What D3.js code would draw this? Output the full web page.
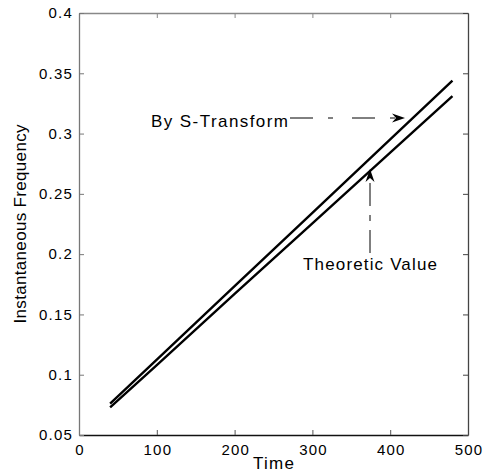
<!DOCTYPE html>
<html>
<head>
<meta charset="utf-8">
<script src="https://cdn.jsdelivr.net/npm/d3@7"></script>
<style>
  body { margin: 0; background: white; }
  text { font-family: "Liberation Sans", Arial, Helvetica, sans-serif; fill: black; }
</style>
</head>
<body>
<svg id="chart" width="488" height="475"></svg>
<script>
// values
const time = [40, 100, 200, 300, 400, 480];
const theoretic = [0.073, 0.108, 0.167, 0.2256, 0.2842, 0.331];
const sTransform = [0.076, 0.1125, 0.1734, 0.2343, 0.2952, 0.344];

const xTicks = [0, 100, 200, 300, 400, 500];
const yTicks = [0.05, 0.1, 0.15, 0.2, 0.25, 0.3, 0.35, 0.4];

const labels = {
    x: "Time",
    y: "Instantaneous Frequency",
    upper: "By S-Transform",
    lower: "Theoretic Value"
};

const margin = { left: 79, top: 13, right: 468, bottom: 435 };

const svg = d3.select("#chart");

const x = d3.scaleLinear().domain([0, 500]).range([margin.left, margin.right]);
const y = d3.scaleLinear().domain([0.05, 0.4]).range([margin.bottom, margin.top]);

function drawAxes() {
    const tickLen = 5;

    // bottom
    const bottom = svg.append("g")
        .attr("transform", `translate(0,${margin.bottom})`)
        .call(d3.axisBottom(x).tickValues(xTicks).tickSizeInner(-tickLen).tickSizeOuter(0).tickPadding(9));
    bottom.select(".domain").attr("stroke", "#111").attr("stroke-width", 1.2);
    bottom.selectAll(".tick line").attr("stroke", "#555");
    bottom.selectAll(".tick text")
        .attr("font-size", 15)
        .attr("letter-spacing", 1.2)
        .attr("dx", 0.6);

    // top
    const top = svg.append("g")
        .attr("transform", `translate(0,${margin.top})`)
        .call(d3.axisTop(x).tickValues(xTicks).tickSizeInner(-tickLen).tickSizeOuter(0).tickFormat(""));
    top.select(".domain").attr("stroke", "#888");
    top.selectAll(".tick line").attr("stroke", "#888");

    // left
    const left = svg.append("g")
        .attr("transform", `translate(${margin.left},0)`)
        .call(d3.axisLeft(y).tickValues(yTicks).tickSizeInner(-tickLen).tickSizeOuter(0).tickPadding(6)
            .tickFormat(d => d3.format("")(+d.toFixed(2))));
    left.select(".domain").attr("stroke", "#777");
    left.selectAll(".tick line").attr("stroke", "#777");
    left.selectAll(".tick text")
        .attr("font-size", 15)
        .attr("letter-spacing", 1.2);

    // right
    const right = svg.append("g")
        .attr("transform", `translate(${margin.right},0)`)
        .call(d3.axisRight(y).tickValues(yTicks).tickSizeInner(-tickLen).tickSizeOuter(0).tickFormat(""));
    right.select(".domain").attr("stroke", "#444");
    right.selectAll(".tick line").attr("stroke", "#444");

    svg.selectAll(".domain").attr("stroke-width", 1.3);
}

function drawLabels() {
    svg.append("text")
        .attr("x", (margin.left + margin.right) / 2)
        .attr("y", 469)
        .attr("text-anchor", "middle")
        .attr("font-size", 17)
        .attr("textLength", 41)
        .text(labels.x);

    svg.append("text")
        .attr("transform", `translate(26,${(margin.top + margin.bottom) / 2}) rotate(-90)`)
        .attr("text-anchor", "middle")
        .attr("font-size", 17)
        .attr("textLength", 199)
        .text(labels.y);
}

function drawLines() {
    const line = d3.line()
        .x((d, i) => x(time[i]))
        .y(d => y(d));

    [sTransform, theoretic].forEach(series => {
        svg.append("path")
            .datum(series)
            .attr("d", line)
            .attr("fill", "none")
            .attr("stroke", "black")
            .attr("stroke-width", 2.4);
    });
}

function arrowHead(tx, ty, angle) {
    // small filled head pointing along angle (degrees)
    svg.append("path")
        .attr("d", "M0,0 L-13,-4.5 L-9,0 L-13,4.5 Z")
        .attr("fill", "black")
        .attr("transform", `translate(${tx},${ty}) rotate(${angle})`);
}

function drawAnnotations() {
    // By S-Transform
    svg.append("text")
        .attr("x", 151)
        .attr("y", 127)
        .attr("font-size", 17)
        .attr("textLength", 137)
        .text(labels.upper);

    svg.append("line")
        .attr("x1", 290).attr("y1", 118)
        .attr("x2", 398).attr("y2", 118)
        .attr("stroke", "black")
        .attr("stroke-width", 1)
        .attr("stroke-dasharray", "23,15,5,19");
    arrowHead(405, 118, 0);

    // Theoretic Value
    svg.append("text")
        .attr("x", 303)
        .attr("y", 270)
        .attr("font-size", 17)
        .attr("textLength", 134)
        .text(labels.lower);

    svg.append("line")
        .attr("x1", 370).attr("y1", 253)
        .attr("x2", 370).attr("y2", 176)
        .attr("stroke", "black")
        .attr("stroke-width", 1)
        .attr("stroke-dasharray", "23,9,6,9");
    arrowHead(370, 169, -90);
}

drawAxes();
drawLines();
drawLabels();
drawAnnotations();
</script>
</body>
</html>
